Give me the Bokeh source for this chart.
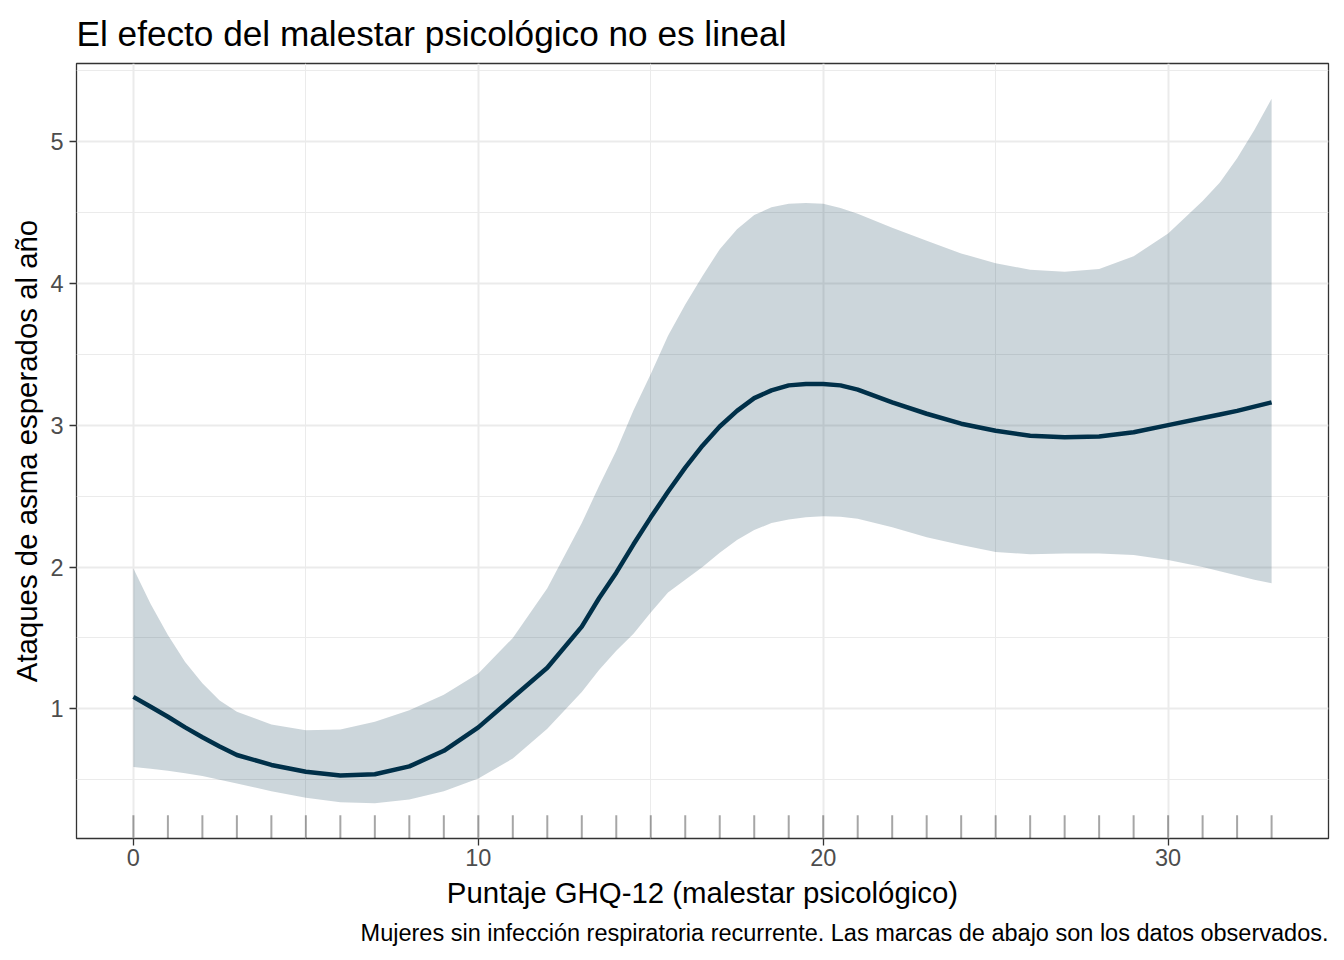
from bokeh.plotting import figure
from bokeh.models import Range1d, FixedTicker, Title
from bokeh.embed import file_html
from bokeh.resources import INLINE

# GHQ-12 score grid
ghq = [0, 0.5, 1, 1.5, 2, 2.5, 3, 4, 5, 6, 7, 8, 9, 10, 11, 12, 13, 13.5, 14,
       14.5, 15, 15.5, 16, 16.5, 17, 17.5, 18, 18.5, 19, 19.5, 20, 20.5, 21,
       22, 23, 24, 25, 26, 27, 28, 29, 30, 31, 31.5, 32, 32.5, 33]
# expected asthma attacks per year (fit)
fit = [1.085, 1.015, 0.945, 0.87, 0.80, 0.735, 0.675, 0.605, 0.557, 0.530,
       0.540, 0.595, 0.705, 0.87, 1.08, 1.29, 1.58, 1.78, 1.96, 2.16, 2.35,
       2.53, 2.70, 2.855, 2.99, 3.10, 3.19, 3.245, 3.28, 3.29, 3.29, 3.28,
       3.25, 3.16, 3.08, 3.01, 2.96, 2.925, 2.915, 2.92, 2.95, 3.00, 3.05,
       3.075, 3.10, 3.13, 3.16]
lower = [0.59, 0.578, 0.565, 0.546, 0.527, 0.50, 0.475, 0.42, 0.374, 0.342,
         0.335, 0.362, 0.42, 0.51, 0.65, 0.86, 1.12, 1.275, 1.41, 1.53, 1.68,
         1.82, 1.91, 2.00, 2.10, 2.19, 2.26, 2.31, 2.335, 2.35, 2.357, 2.355,
         2.34, 2.28, 2.21, 2.155, 2.105, 2.09, 2.095, 2.096, 2.085, 2.05, 2.00,
         1.97, 1.94, 1.91, 1.885]
upper = [1.99, 1.74, 1.52, 1.33, 1.18, 1.06, 0.98, 0.89, 0.85, 0.855, 0.91,
         0.99, 1.10, 1.25, 1.50, 1.85, 2.31, 2.57, 2.82, 3.105, 3.36, 3.63,
         3.85, 4.05, 4.24, 4.38, 4.48, 4.535, 4.56, 4.566, 4.56, 4.53, 4.49,
         4.39, 4.30, 4.21, 4.14, 4.095, 4.08, 4.10, 4.19, 4.35, 4.58, 4.71,
         4.88, 5.08, 5.30]
# observed GHQ-12 values (rug)
observed = list(range(0, 34))

x_ticks = [0, 10, 20, 30]
x_minor = [5, 15, 25]
y_ticks = [1, 2, 3, 4, 5]
y_minor = [0.5, 1.5, 2.5, 3.5, 4.5, 5.5]

title_text = "El efecto del malestar psicológico no es lineal"
x_label = "Puntaje GHQ-12 (malestar psicológico)"
y_label = "Ataques de asma esperados al año"
caption_text = "Mujeres sin infección respiratoria recurrente. Las marcas de abajo son los datos observados."

FONT = "Liberation Sans"
NAVY = "#003049"

xmin, xmax = min(ghq), max(ghq)
ymin, ymax = min(lower), max(upper)
xpad = 0.05 * (xmax - xmin)
ypad = 0.05 * (ymax - ymin)
y0 = ymin - ypad
y1 = ymax + ypad

p = figure(width=1336, height=952, output_backend="svg", toolbar_location=None,
           x_range=Range1d(xmin - xpad, xmax + xpad), y_range=Range1d(y0, y1),
           min_border_left=76, min_border_right=8, min_border_top=63,
           min_border_bottom=114)

p.title.text = title_text
p.title.text_font = FONT
p.title.text_font_size = "35.2px"
p.title.text_font_style = "normal"
p.title.text_color = "black"
p.title.align = "left"
p.title.offset = 0
p.title.standoff = 21

p.background_fill_color = "white"
p.border_fill_color = "white"
p.outline_line_color = "#333333"
p.outline_line_width = 1.3

p.xaxis.ticker = FixedTicker(ticks=x_ticks, minor_ticks=x_minor)
p.yaxis.ticker = FixedTicker(ticks=y_ticks, minor_ticks=y_minor)

for ax in (p.xaxis, p.yaxis):
    ax.axis_line_color = None
    ax.major_tick_line_color = "#333333"
    ax.major_tick_line_width = 1.3
    ax.major_tick_out = 7
    ax.major_tick_in = 0
    ax.minor_tick_line_color = None
    ax.major_label_text_font = FONT
    ax.major_label_text_font_size = "23.5px"
    ax.major_label_text_color = "#4D4D4D"
    ax.axis_label_text_font = FONT
    ax.axis_label_text_font_size = "29.4px"
    ax.axis_label_text_font_style = "normal"
    ax.axis_label_text_color = "black"

p.xaxis.axis_label = x_label
p.yaxis.axis_label = y_label
p.xaxis.major_label_standoff = 3
p.yaxis.major_label_standoff = 6
p.xaxis.axis_label_standoff = 7
p.yaxis.axis_label_standoff = 4

for g in (p.xgrid, p.ygrid):
    g.grid_line_color = "#EBEBEB"
    g.grid_line_width = 2
    g.minor_grid_line_color = "#EBEBEB"
    g.minor_grid_line_width = 1

p.varea(x=ghq, y1=lower, y2=upper, fill_color=NAVY, fill_alpha=0.2)
p.line(x=ghq, y=fit, line_color=NAVY, line_width=4.5, line_join="round")

rug_top = y0 + 0.03 * (y1 - y0)
p.segment(x0=observed, y0=[y0] * len(observed), x1=observed,
          y1=[rug_top] * len(observed), line_color="black", line_alpha=0.35,
          line_width=2)

cap = Title(text=caption_text, align="right", text_font=FONT,
            text_font_size="23.5px", text_font_style="normal",
            text_color="black", offset=0, standoff=13)
p.add_layout(cap, "below")

open("out.html", "w").write(file_html(p, INLINE))
